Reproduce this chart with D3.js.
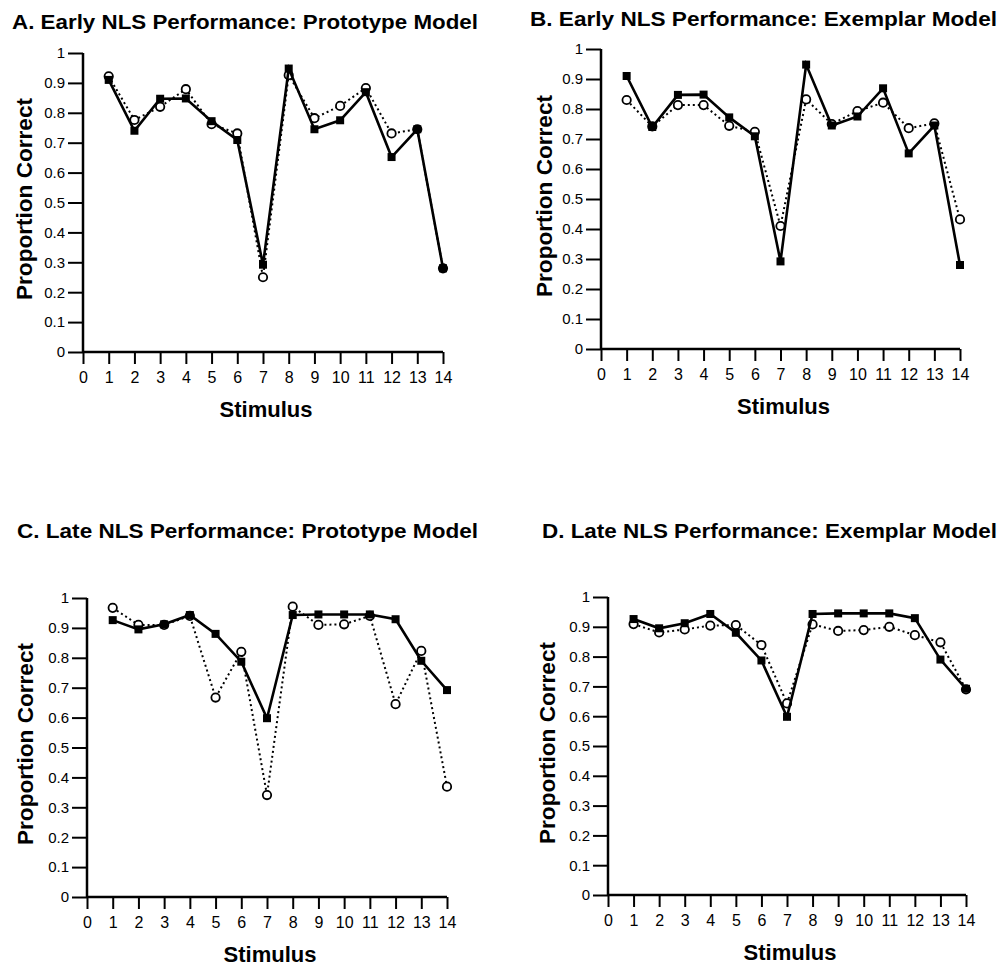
<!DOCTYPE html>
<html>
<head>
<meta charset="utf-8">
<script src="https://cdn.jsdelivr.net/npm/d3@7"></script>
<style>
  html, body { margin: 0; padding: 0; background: #fff; }
  svg { display: block; }
  text { font-family: Arial, "Liberation Sans", Helvetica, sans-serif; fill: #000; }
</style>
</head>
<body>
<svg id="chart" width="1001" height="966"></svg>
<script>
// Stimulus numbers on the x axis
const stimuli = [1, 2, 3, 4, 5, 6, 7, 8, 9, 10, 11, 12, 13, 14];
const xTickValues = [0, 1, 2, 3, 4, 5, 6, 7, 8, 9, 10, 11, 12, 13, 14];
const yTickValues = [0, 0.1, 0.2, 0.3, 0.4, 0.5, 0.6, 0.7, 0.8, 0.9, 1];

// Observed proportion correct (solid line, filled squares)
const earlyObserved = [0.91, 0.74, 0.847, 0.848, 0.772, 0.709, 0.292, 0.948, 0.745, 0.775, 0.869, 0.652, 0.745, 0.28];
const lateObserved  = [0.926, 0.895, 0.912, 0.943, 0.88, 0.787, 0.598, 0.943, 0.945, 0.945, 0.945, 0.929, 0.79, 0.692];

// Model predictions (dotted line, open circles)
const earlyPrototype = [0.922, 0.776, 0.82, 0.879, 0.762, 0.731, 0.25, 0.926, 0.782, 0.823, 0.883, 0.731, 0.745, 0.28];
const earlyExemplar  = [0.83, 0.742, 0.813, 0.813, 0.744, 0.724, 0.41, 0.832, 0.75, 0.793, 0.821, 0.736, 0.752, 0.432];
const latePrototype  = [0.967, 0.91, 0.91, 0.94, 0.667, 0.82, 0.341, 0.971, 0.91, 0.912, 0.94, 0.645, 0.823, 0.369];
const lateExemplar   = [0.909, 0.881, 0.891, 0.904, 0.906, 0.839, 0.643, 0.908, 0.886, 0.889, 0.9, 0.872, 0.848, 0.69];

const panelTitles = [
  "A. Early NLS Performance: Prototype Model",
  "B. Early NLS Performance: Exemplar Model",
  "C. Late NLS Performance: Prototype Model",
  "D. Late NLS Performance: Exemplar Model"
];

// Panel layout: plot extents, title placement and axis-title placement
const panels = [
  { title: panelTitles[0], observed: earlyObserved, model: earlyPrototype,
    x0: 83, x1: 443, yBottom: 352, yTop: 53,
    titleX: 12, titleY: 29, titleLen: 466, yLabelX: 32, yLabelY: 199 },
  { title: panelTitles[1], observed: earlyObserved, model: earlyExemplar,
    x0: 601, x1: 960, yBottom: 349, yTop: 49,
    titleX: 530, titleY: 26, titleLen: 467, yLabelX: 552, yLabelY: 196 },
  { title: panelTitles[2], observed: lateObserved, model: latePrototype,
    x0: 87, x1: 447, yBottom: 897, yTop: 598,
    titleX: 17, titleY: 538, titleLen: 461, yLabelX: 33, yLabelY: 744 },
  { title: panelTitles[3], observed: lateObserved, model: lateExemplar,
    x0: 608, x1: 966, yBottom: 895, yTop: 597,
    titleX: 542, titleY: 538, titleLen: 455, yLabelX: 555, yLabelY: 743 }
];

const svg = d3.select("#chart");

panels.forEach(p => {
  const g = svg.append("g");
  const x = d3.scaleLinear().domain([0, 14]).range([p.x0, p.x1]);
  const y = d3.scaleLinear().domain([0, 1]).range([p.yBottom, p.yTop]);

  // Title
  g.append("text")
    .attr("x", p.titleX).attr("y", p.titleY)
    .attr("font-size", 21).attr("font-weight", "bold")
    .attr("textLength", p.titleLen).attr("lengthAdjust", "spacingAndGlyphs")
    .text(p.title);

  // Axes
  const xAxis = d3.axisBottom(x).tickValues(xTickValues).tickSize(12).tickPadding(8)
    .tickFormat(d3.format("d"));
  const yAxis = d3.axisLeft(y).tickValues(yTickValues).tickSize(15).tickPadding(3)
    .tickFormat(d => d === 0 ? "0" : d === 1 ? "1" : d3.format(".1f")(d));

  const gx = g.append("g").attr("transform", `translate(0,${p.yBottom})`).call(xAxis);
  const gy = g.append("g").attr("transform", `translate(${p.x0},0)`).call(yAxis);

  [gx, gy].forEach(a => {
    a.select(".domain").attr("stroke", "#000").attr("stroke-width", 2.5);
    a.selectAll(".tick line").attr("stroke", "#000").attr("stroke-width", 2);
  });
  // keep the axis frame as plain lines without end caps
  gx.select(".domain").attr("d", `M${p.x0},0H${p.x1}`);
  gy.select(".domain").attr("d", `M0,${p.yBottom}V${p.yTop}`);

  gx.selectAll(".tick text").attr("font-size", 16).attr("fill", "#000")
    .attr("font-family", "Arial, 'Liberation Sans', sans-serif");
  gy.selectAll(".tick text").attr("font-size", 15).attr("fill", "#000")
    .attr("font-family", "Arial, 'Liberation Sans', sans-serif");

  // Axis titles
  g.append("text")
    .attr("transform", `translate(${p.yLabelX},${p.yLabelY}) rotate(-90)`)
    .attr("text-anchor", "middle")
    .attr("font-size", 22).attr("font-weight", "bold")
    .attr("textLength", 202).attr("lengthAdjust", "spacingAndGlyphs")
    .text("Proportion Correct");

  g.append("text")
    .attr("x", (x(0) + x(14)) / 2 + 3).attr("y", p.yBottom + 65)
    .attr("text-anchor", "middle")
    .attr("font-size", 22).attr("font-weight", "bold")
    .text("Stimulus");

  const line = d3.line().x((d, i) => x(stimuli[i])).y(d => y(d));

  // Model predictions: dotted line with open circles
  g.append("path").datum(p.model)
    .attr("d", line).attr("fill", "none")
    .attr("stroke", "#000").attr("stroke-width", 2)
    .attr("stroke-dasharray", "2,3");

  g.selectAll("circle.model").data(p.model).join("circle")
    .attr("class", "model")
    .attr("cx", (d, i) => x(stimuli[i])).attr("cy", d => y(d))
    .attr("r", 4.2)
    .attr("fill", "#fff").attr("stroke", "#000").attr("stroke-width", 1.8);

  // Observed data: solid line with filled squares
  g.append("path").datum(p.observed)
    .attr("d", line).attr("fill", "none")
    .attr("stroke", "#000").attr("stroke-width", 2.6);

  const s = 8;
  g.selectAll("rect.obs").data(p.observed).join("rect")
    .attr("class", "obs")
    .attr("x", (d, i) => x(stimuli[i]) - s / 2).attr("y", d => y(d) - s / 2)
    .attr("width", s).attr("height", s)
    .attr("fill", "#000");
});
</script>
</body>
</html>
